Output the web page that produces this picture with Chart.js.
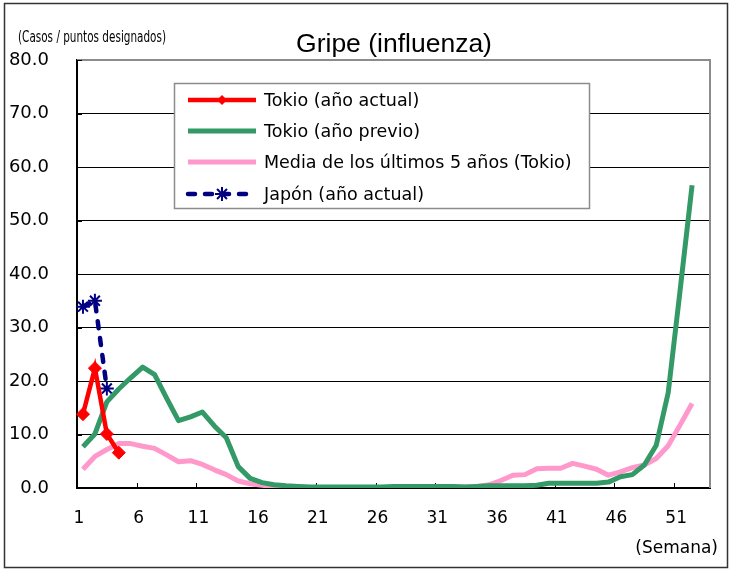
<!DOCTYPE html>
<html>
<head>
<meta charset="utf-8">
<script src="https://cdn.jsdelivr.net/npm/chart.js@4.4.1/dist/chart.umd.min.js"></script>
<style>
  html, body { margin: 0; padding: 0; background: #fff; }
  #wrap { width: 730px; height: 571px; position: relative; }
</style>
</head>
<body>
<div id="wrap"><canvas id="flu" width="730" height="571"></canvas></div>
<script>
// weeks 1..53 (week 53 left empty)
const weeks = ["1","2","3","4","5","6","7","8","9","10","11","12","13","14","15","16","17","18","19","20",
  "21","22","23","24","25","26","27","28","29","30","31","32","33","34","35","36","37","38","39","40",
  "41","42","43","44","45","46","47","48","49","50","51","52","53"];

const tokyoNow = [13.8, 22.4, 10.1, 6.6];
const tokyoPrev = [7.7, 10.1, 16.1, 18.5, 20.6, 22.6, 21.2, 16.8, 12.6, 13.3,
  14.2, 11.6, 9.4, 4.0, 1.8, 1.0, 0.6, 0.4, 0.3, 0.2,
  0.2, 0.2, 0.2, 0.2, 0.2, 0.2, 0.3, 0.3, 0.3, 0.3,
  0.3, 0.3, 0.2, 0.3, 0.4, 0.4, 0.4, 0.4, 0.5, 0.9,
  0.9, 0.9, 0.9, 0.9, 1.1, 2.1, 2.5, 4.3, 8.0, 17.8,
  37.0, 56.6];
const tokyoAvg5 = [3.5, 5.9, 7.2, 8.3, 8.3, 7.8, 7.4, 6.2, 4.9, 5.1,
  4.4, 3.4, 2.5, 1.3, 0.8, 0.5, 0.3, 0.2, 0.2, 0.1,
  0.1, 0.1, 0.1, 0.1, 0.1, 0.1, 0.1, 0.1, 0.1, 0.1,
  0.1, 0.2, 0.2, 0.3, 0.6, 1.4, 2.4, 2.5, 3.6, 3.7,
  3.7, 4.6, 4.1, 3.5, 2.4, 3.0, 3.8, 4.3, 5.5, 7.9,
  11.8, 15.8];
const japanNow = [33.9, 35.0, 18.6];

const yMax = 80;
const yStep = 10;
const xLabelEvery = 5;

const seriesNames = ["Tokio (año actual)", "Tokio (año previo)", "Media de los últimos 5 años (Tokio)", "Japón (año actual)"];
const RED = "#ff0000", GREEN = "#339966", PINK = "#ff99cc", NAVY = "#000080";

const decor = {
  id: "decor",
  beforeDraw(chart) {
    const c = chart.ctx;
    c.save();
    c.fillStyle = "#fff";
    c.fillRect(0, 0, chart.width, chart.height);
    c.strokeStyle = "#333";
    c.lineWidth = 1.5;
    c.strokeRect(4.5, 3.5, 723, 564);
    c.restore();
  },
  beforeDatasetsDraw(chart) {
    const c = chart.ctx, a = chart.chartArea;
    c.save();
    c.strokeStyle = "#8c8c8c";
    c.lineWidth = 2;
    c.beginPath();
    c.moveTo(a.left, a.top);
    c.lineTo(a.right, a.top);
    c.lineTo(a.right, a.bottom);
    c.stroke();
    // tick marks pointing inside
    c.strokeStyle = "#000";
    c.lineWidth = 1;
    const xs = chart.scales.x, ys = chart.scales.y;
    const half = (xs.getPixelForValue(1) - xs.getPixelForValue(0)) / 2;
    for (let i = 0; i < weeks.length; i += xLabelEvery) {
      const px = Math.round(xs.getPixelForValue(i) - half) + 0.5;
      c.beginPath(); c.moveTo(px, a.bottom); c.lineTo(px, a.bottom - 5); c.stroke();
    }
    for (let v = 0; v <= yMax; v += yStep) {
      const py = Math.round(ys.getPixelForValue(v)) + 0.5;
      c.beginPath(); c.moveTo(a.left, py); c.lineTo(a.left + 5, py); c.stroke();
    }
    c.restore();
  },
  afterDraw(chart) {
    const c = chart.ctx;
    c.save();
    // title
    c.fillStyle = "#000";
    c.font = "26.5px 'Liberation Sans', Arial, sans-serif";
    c.textAlign = "center";
    c.textBaseline = "alphabetic";
    c.fillText("Gripe (influenza)", 394, 52);
    // y unit label (condensed)
    c.font = "15px 'DejaVu Sans', sans-serif";
    c.textAlign = "left";
    const unit = "(Casos / puntos designados)";
    const w = c.measureText(unit).width;
    c.save();
    c.translate(18, 42);
    c.scale(148 / w, 1);
    c.fillText(unit, 0, 0);
    c.restore();
    // x unit label
    c.font = "17px 'DejaVu Sans', sans-serif";
    c.textAlign = "right";
    c.fillText("(Semana)", 718, 553);

    // legend
    const lx = 174, ly = 83, lw = 415, lh = 125;
    c.fillStyle = "#fff";
    c.fillRect(lx, ly, lw, lh);
    c.strokeStyle = "#8c8c8c";
    c.lineWidth = 1.5;
    c.strokeRect(lx + 0.5, ly + 0.5, lw, lh);
    const rows = [100, 131, 162, 194];
    chart.data.datasets.forEach((ds, i) => {
      const y = rows[i];
      c.save();
      c.strokeStyle = ds.borderColor;
      c.lineWidth = ds.borderWidth;
      c.lineCap = ds.borderCapStyle || "butt";
      c.setLineDash(ds.borderDash || []);
      c.beginPath(); c.moveTo(188, y); c.lineTo(256, y); c.stroke();
      c.restore();
      if (ds.pointRadius > 0) {
        c.fillStyle = ds.pointBackgroundColor;
        c.strokeStyle = ds.pointBorderColor;
        c.lineWidth = ds.pointBorderWidth;
        c.beginPath();
        if (ds.pointStyle === "rectRot") {
          const r = ds.pointRadius - 1.5;
          c.moveTo(222, y - r); c.lineTo(222 + r, y); c.lineTo(222, y + r); c.lineTo(222 - r, y); c.closePath();
          c.fill();
        } else {
          const r = ds.pointRadius;
          for (let k = 0; k < 4; k++) {
            const ang = k * Math.PI / 4;
            c.moveTo(222 - r * Math.cos(ang), y - r * Math.sin(ang));
            c.lineTo(222 + r * Math.cos(ang), y + r * Math.sin(ang));
          }
          c.stroke();
        }
      }
      c.fillStyle = "#000";
      c.font = "17.5px 'DejaVu Sans', sans-serif";
      c.textAlign = "left";
      c.textBaseline = "middle";
      c.fillText(ds.label, 264, y + 1);
    });
    c.restore();
  }
};

new Chart(document.getElementById("flu"), {
  type: "line",
  data: {
    labels: weeks,
    datasets: [
      { label: seriesNames[0], data: tokyoNow, borderColor: RED, backgroundColor: RED, borderWidth: 4.5,
        pointStyle: "rectRot", pointRadius: 6.5, pointBackgroundColor: RED, pointBorderColor: RED, pointBorderWidth: 1 },
      { label: seriesNames[1], data: tokyoPrev, borderColor: GREEN, borderWidth: 5, pointRadius: 0, borderJoinStyle: "round" },
      { label: seriesNames[2], data: tokyoAvg5, borderColor: PINK, borderWidth: 5, pointRadius: 0, borderJoinStyle: "round" },
      { label: seriesNames[3], data: japanNow, borderColor: NAVY, borderWidth: 4.5, borderDash: [7, 10], borderCapStyle: "round",
        pointStyle: "star", pointRadius: 7, pointBackgroundColor: NAVY, pointBorderColor: NAVY, pointBorderWidth: 2 }
    ]
  },
  options: {
    responsive: false,
    animation: false,
    devicePixelRatio: 1,
    layout: { padding: { left: 0, right: 20, top: 60, bottom: 0 } },
    plugins: { legend: { display: false }, title: { display: false }, tooltip: { enabled: false } },
    elements: { line: { tension: 0 } },
    scales: {
      x: {
        type: "category",
        offset: true,
        afterFit: s => { s.height = 83; },
        grid: { display: false },
        border: { display: true, color: "#000", width: 2 },
        ticks: {
          autoSkip: false, maxRotation: 0, padding: 12, labelOffset: -4,
          color: "#000", font: { family: "'DejaVu Sans', sans-serif", size: 17 },
          callback: (v, i) => (i % xLabelEvery === 0 ? weeks[i] : "")
        }
      },
      y: {
        min: 0, max: yMax,
        afterFit: s => { s.width = 77; },
        grid: {
          drawTicks: false, lineWidth: 1,
          color: ctx => (ctx.tick && (ctx.tick.value === 0 || ctx.tick.value === yMax) ? "rgba(0,0,0,0)" : "#000")
        },
        border: { display: true, color: "#000", width: 2 },
        ticks: {
          stepSize: yStep, padding: 28, color: "#000",
          font: { family: "'DejaVu Sans', sans-serif", size: 18 },
          callback: v => v.toFixed(1)
        }
      }
    }
  },
  plugins: [decor]
});
</script>
</body>
</html>
